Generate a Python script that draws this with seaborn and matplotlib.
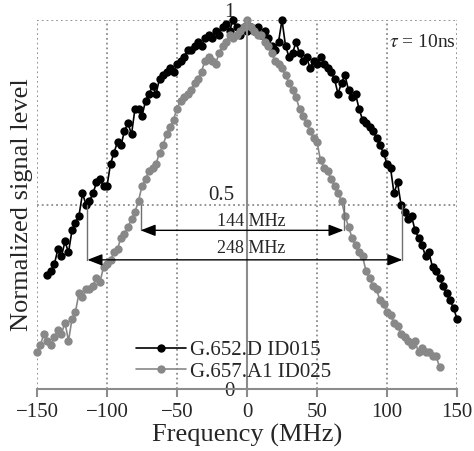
import numpy as np
import pandas as pd
import seaborn as sns
import matplotlib
matplotlib.use("Agg")
from matplotlib import pyplot as plt
from matplotlib.transforms import ScaledTranslation

# values
freq_652 = [-142.5, -140, -137.5, -135, -132.5, -130, -127.5, -125, -122.5, -120,
            -117.5, -115, -112.5, -110, -107.5, -105, -102.5, -100, -97.5, -95,
            -92.5, -90, -87.5, -85, -82.5, -80, -77.5, -75, -72.5, -70,
            -67.5, -65, -62.5, -60, -57.5, -55, -52.5, -50, -47.5, -45,
            -42.5, -40, -37.5, -35, -32.5, -30, -27.5, -25, -22.5, -20,
            -17.5, -15, -12.5, -10, -7.5, -5, -2.5, 0, 2.5, 5,
            7.5, 10, 12.5, 15, 17.5, 20, 22.5, 25, 27.5, 30,
            32.5, 35, 37.5, 40, 42.5, 45, 47.5, 50, 52.5, 55,
            57.5, 60, 62.5, 65, 67.5, 70, 72.5, 75, 77.5, 80,
            82.5, 85, 87.5, 90, 92.5, 95, 97.5, 100, 102.5, 105,
            107.5, 110, 112.5, 115, 117.5, 120, 122.5, 125, 127.5, 130,
            132.5, 135, 137.5, 140, 142.5, 145, 147.5, 150]
level_652 = [0.31, 0.32, 0.34, 0.38, 0.36, 0.40, 0.37, 0.43, 0.45, 0.47,
             0.53, 0.50, 0.51, 0.53, 0.56, 0.57, 0.55, 0.55, 0.61, 0.64,
             0.67, 0.66, 0.70, 0.72, 0.69, 0.76, 0.76, 0.74, 0.78, 0.80,
             0.82, 0.80, 0.84, 0.85, 0.86, 0.87, 0.86, 0.88, 0.89, 0.90,
             0.92, 0.92, 0.93, 0.94, 0.93, 0.95, 0.96, 0.95, 0.97, 0.96,
             0.98, 0.99, 0.97, 1.00, 0.98, 0.96, 0.98, 0.97, 0.98, 0.97,
             0.98, 0.96, 0.97, 0.95, 0.93, 0.92, 0.94, 1.00, 0.93, 0.90,
             0.91, 0.94, 0.91, 0.89, 0.90, 0.87, 0.89, 0.88, 0.90, 0.88,
             0.87, 0.86, 0.84, 0.80, 0.83, 0.85, 0.81, 0.79, 0.80, 0.76,
             0.73, 0.72, 0.71, 0.70, 0.68, 0.66, 0.64, 0.61, 0.60, 0.53,
             0.56, 0.50, 0.48, 0.46, 0.47, 0.43, 0.41, 0.39, 0.36, 0.37,
             0.33, 0.32, 0.30, 0.28, 0.26, 0.24, 0.22, 0.19]

freq_657 = [-150, -147.5, -145, -142.5, -140, -137.5, -135, -132.5, -130, -127.5,
            -125, -122.5, -120, -117.5, -115, -112.5, -110, -107.5, -105, -102.5,
            -100, -97.5, -95, -92.5, -90, -87.5, -85, -82.5, -80, -77.5,
            -75, -72.5, -70, -67.5, -65, -62.5, -60, -57.5, -55, -52.5,
            -50, -47.5, -45, -42.5, -40, -37.5, -35, -32.5, -30, -27.5,
            -25, -22.5, -20, -17.5, -15, -12.5, -10, -7.5, -5, -2.5,
            0, 2.5, 5, 7.5, 10, 12.5, 15, 17.5, 20, 22.5,
            25, 27.5, 30, 32.5, 35, 37.5, 40, 42.5, 45, 47.5,
            50, 52.5, 55, 57.5, 60, 62.5, 65, 67.5, 70, 72.5,
            75, 77.5, 80, 82.5, 85, 87.5, 90, 92.5, 95, 97.5,
            100, 102.5, 105, 107.5, 110, 112.5, 115, 117.5, 120, 122.5,
            125, 127.5, 130, 132.5, 135, 137.5]
level_657 = [0.10, 0.12, 0.15, 0.13, 0.12, 0.14, 0.16, 0.15, 0.18, 0.13,
             0.19, 0.21, 0.26, 0.25, 0.27, 0.27, 0.28, 0.30, 0.29, 0.33,
             0.34, 0.35, 0.37, 0.38, 0.41, 0.42, 0.44, 0.46, 0.48, 0.51,
             0.55, 0.57, 0.59, 0.60, 0.61, 0.64, 0.66, 0.69, 0.71, 0.73,
             0.76, 0.78, 0.79, 0.80, 0.81, 0.83, 0.84, 0.86, 0.89, 0.90,
             0.89, 0.88, 0.91, 0.93, 0.94, 0.96, 0.95, 0.96, 0.97, 0.98,
             1.00, 0.98, 0.97, 0.96, 0.96, 0.94, 0.93, 0.91, 0.89, 0.88,
             0.87, 0.85, 0.83, 0.81, 0.79, 0.76, 0.74, 0.72, 0.70, 0.68,
             0.67, 0.62, 0.60, 0.59, 0.57, 0.55, 0.53, 0.51, 0.47, 0.44,
             0.41, 0.39, 0.37, 0.36, 0.32, 0.30, 0.28, 0.27, 0.24, 0.23,
             0.21, 0.20, 0.18, 0.17, 0.15, 0.14, 0.13, 0.12, 0.13, 0.10,
             0.11, 0.10, 0.10, 0.09, 0.09, 0.06]

fibers = ["G.652.D ID015", "G.657.A1 ID025"]
colors = ["#000000", "#888888"]

# bandwidth arrows
bw_labels = ["144 MHz", "248 MHz"]
bw_left = [-76, -114]
bw_right = [69, 111]
bw_level = [0.43, 0.35]
bw_text_level = [0.455, 0.38]

x_ticks = [-150, -100, -50, 0, 50, 100, 150]
y_ticks = [0, 0.5, 1]
y_tick_labels = ["0", "0.5", "1"]
y_label_lift = [0, 8, 7]

df = pd.concat([
    pd.DataFrame({"freq": freq_652, "level": level_652, "fiber": fibers[0]}),
    pd.DataFrame({"freq": freq_657, "level": level_657, "fiber": fibers[1]}),
])

sns.set_style("white")
plt.rcParams["font.family"] = ["Liberation Serif", "DejaVu Serif"]
plt.rcParams["mathtext.fontset"] = "stix"

fig = plt.figure(figsize=(4.74, 4.51), dpi=100)
ax = fig.add_axes([37 / 474, 62 / 451, 420 / 474, 369 / 451])

sns.lineplot(data=df, x="freq", y="level", hue="fiber", hue_order=fibers,
             palette=colors, marker="o", markersize=6, markeredgewidth=0,
             linewidth=1.2, sort=False, estimator=None, clip_on=False, ax=ax)

ax.set_xlim(-150, 150)
ax.set_ylim(0, 1)

# axes look
grey = "#8c8c8c"
for s in ["top", "right"]:
    ax.spines[s].set_visible(False)
ax.spines["left"].set_position(("data", 0))
ax.spines["left"].set_color(grey)
ax.spines["left"].set_linewidth(1.5)
ax.spines["bottom"].set_color(grey)
ax.spines["bottom"].set_linewidth(1.5)

ax.set_xticks(x_ticks)
ax.set_yticks(y_ticks)
ax.set_yticklabels(y_tick_labels)
ax.tick_params(axis="x", direction="out", length=6, width=1.5, color=grey,
               labelsize=15, pad=4, bottom=True)
ax.tick_params(axis="y", length=0, labelsize=15, pad=9)
for lab, lift in zip(ax.get_yticklabels(), y_label_lift):
    lab.set_transform(lab.get_transform() + ScaledTranslation(0, lift / 72, fig.dpi_scale_trans))

ax.grid(True, linestyle=":", color=grey, linewidth=1.3)
ax.xaxis.get_gridlines()[3].set_visible(False)
ax.yaxis.get_gridlines()[0].set_visible(False)

ax.set_xlabel("Frequency (MHz)", fontsize=19)
ax.set_ylabel("Normalized signal level", fontsize=19)
ax.xaxis.set_label_coords(0.5, -0.095)
ax.yaxis.set_label_coords(-0.01, 0.5)

# bandwidth markers
for lab, x0, x1, lv, tl in zip(bw_labels, bw_left, bw_right, bw_level, bw_text_level):
    ax.plot([x0, x0], [0.5, lv], color="#707070", linewidth=1)
    ax.plot([x1, x1], [0.5, lv], color="#707070", linewidth=1)
    ax.annotate("", xy=(x0, lv), xytext=(x1, lv),
                arrowprops=dict(arrowstyle="<|-|>,head_length=0.9,head_width=0.35",
                                color="black", linewidth=1, shrinkA=0, shrinkB=0))
    ax.text(3, tl, lab, ha="center", va="center", fontsize=13)

ax.text(149, 0.94, r"$\tau$ = 10ns", ha="right", va="center", fontsize=14)

handles, labels = ax.get_legend_handles_labels()
ax.legend(handles, labels, loc="lower left", bbox_to_anchor=(0.235, 0.02),
          frameon=False, fontsize=15, borderpad=0, borderaxespad=0,
          handlelength=2.4, handletextpad=0.2, labelspacing=0.1)

plt.savefig("out.png", dpi=100)
